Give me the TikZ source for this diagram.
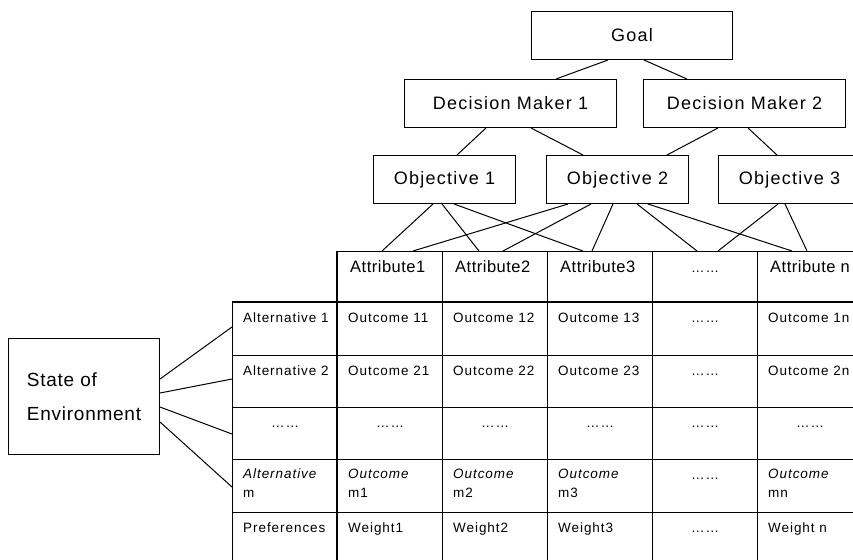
\documentclass[tikz,border=0pt]{standalone}
\usepackage{fontspec}
\setmainfont{Liberation Sans}
\newcommand\fsz[2]{\fontsize{#1pt}{#2pt}\selectfont}
\tikzset{
 conn/.style={line width=1pt},
 box/.style={draw, line width=1pt, inner sep=0pt, anchor=north west, minimum height=48pt,
   font=\fsz{18}{22}\addfontfeature{LetterSpace=7}},
 cell/.style={draw, line width=1.3pt, inner sep=0pt, anchor=north west, minimum width=105pt},
 heavy/.style={line width=1.9pt},
 ctext/.style={inner sep=0pt, anchor=base west, font=\fsz{13.5}{16}\addfontfeature{LetterSpace=7}},
 htext/.style={inner sep=0pt, anchor=base west, font=\fsz{16.5}{20}\addfontfeature{LetterSpace=3}},
}
% name, x, y, height, text
\newcommand\tcell[5]{%
 \node[cell, minimum height=#4pt] (#1) at (#2,#3) {};
 \node[ctext] at ([shift={(11pt,-20pt)}]#1.north west) {#5};}
% centred dots cell
\newcommand\dcell[4]{%
 \node[cell, minimum height=#4pt] (#1) at (#2,#3) {};
 \node[ctext, anchor=base] at ([yshift=-20pt]#1.north) {……};}
% two-line cell
\newcommand\tcellii[6]{%
 \node[cell, minimum height=#4pt] (#1) at (#2,#3) {};
 \node[ctext] at ([shift={(11pt,-19pt)}]#1.north west) {#5};
 \node[ctext] at ([shift={(11pt,-38pt)}]#1.north west) {#6};}
\begin{document}
\begin{tikzpicture}[x=1pt,y=-1pt]
\fill[white] (0,0) rectangle (853,559);
\useasboundingbox (0,0) rectangle (853,559);

% hierarchy boxes
\node[box, minimum width=201pt] (goal) at (531,11) {Goal};
\node[box, minimum width=212pt] (dm1) at (404,79) {Decision Maker 1};
\node[box, minimum width=202pt] (dm2) at (643,79) {Decision Maker 2};
\node[box, minimum width=142pt] (ob1) at (373,155) {Objective 1};
\node[box, minimum width=142pt] (ob2) at (546,155) {Objective 2};
\node[box, minimum width=142pt] (ob3) at (718,155) {Objective 3};

% header row
\foreach \n/\x in {h1/337,h2/442,h3/547,h4/652,h5/757}{
 \node[cell, minimum height=51pt] (\n) at (\x,251) {};}
\node[htext] at ([shift={(13pt,-21pt)}]h1.north west) {Attribute1};
\node[htext] at ([shift={(13pt,-21pt)}]h2.north west) {Attribute2};
\node[htext] at ([shift={(13pt,-21pt)}]h3.north west) {Attribute3};
\node[ctext, anchor=base] at ([yshift=-21pt]h4.north) {……};
\node[htext] at ([shift={(13pt,-21pt)}]h5.north west) {Attribute n};

% row 1
\tcell{r1}{232}{302}{53}{Alternative 1}
\tcell{c11}{337}{302}{53}{Outcome 11}
\tcell{c12}{442}{302}{53}{Outcome 12}
\tcell{c13}{547}{302}{53}{Outcome 13}
\dcell{c14}{652}{302}{53}
\tcell{c15}{757}{302}{53}{Outcome 1n}
% row 2
\tcell{r2}{232}{355}{52}{Alternative 2}
\tcell{c21}{337}{355}{52}{Outcome 21}
\tcell{c22}{442}{355}{52}{Outcome 22}
\tcell{c23}{547}{355}{52}{Outcome 23}
\dcell{c24}{652}{355}{52}
\tcell{c25}{757}{355}{52}{Outcome 2n}
% row 3
\dcell{r3}{232}{407}{52}
\dcell{c31}{337}{407}{52}
\dcell{c32}{442}{407}{52}
\dcell{c33}{547}{407}{52}
\dcell{c34}{652}{407}{52}
\dcell{c35}{757}{407}{52}
% row 4
\tcellii{r4}{232}{459}{53}{\itshape Alternative}{m}
\tcellii{c41}{337}{459}{53}{\itshape Outcome}{m1}
\tcellii{c42}{442}{459}{53}{\itshape Outcome}{m2}
\tcellii{c43}{547}{459}{53}{\itshape Outcome}{m3}
\dcell{c44}{652}{459}{53}
\tcellii{c45}{757}{459}{53}{\itshape Outcome}{mn}
% row 5
\tcell{r5}{232}{512}{60}{Preferences}
\tcell{c51}{337}{512}{60}{Weight1}
\tcell{c52}{442}{512}{60}{Weight2}
\tcell{c53}{547}{512}{60}{Weight3}
\dcell{c54}{652}{512}{60}
\tcell{c55}{757}{512}{60}{Weight n}

% heavier rules of the table
\draw[heavy] (h1.north west) -- (c51.south west);
\draw[heavy] (r1.north west) -- (c15.north east);

% state of environment
\node[draw, line width=1pt, anchor=north west, minimum width=151pt, minimum height=116pt,
  inner sep=0pt, align=left, font=\fsz{19}{34}\addfontfeature{LetterSpace=4}]
  (soe) at (8,338) {State of\\Environment};

% connectors: goal - decision makers
\draw[conn] ([xshift=77pt]goal.south west) -- ([xshift=152pt]dm1.north west);
\draw[conn] ([xshift=113pt]goal.south west) -- ([xshift=44pt]dm2.north west);
% decision makers - objectives
\draw[conn] ([xshift=82pt]dm1.south west) -- ([xshift=84pt]ob1.north west);
\draw[conn] ([xshift=127pt]dm1.south west) -- ([xshift=37pt]ob2.north west);
\draw[conn] ([xshift=75pt]dm2.south west) -- ([xshift=121pt]ob2.north west);
\draw[conn] ([xshift=105pt]dm2.south west) -- ([xshift=59pt]ob3.north west);
% objectives - attributes
\draw[conn] ([xshift=60pt]ob1.south west) -- ([xshift=45pt]h1.north west);
\draw[conn] ([xshift=69pt]ob1.south west) -- ([xshift=37pt]h2.north west);
\draw[conn] ([xshift=81pt]ob1.south west) -- ([xshift=36pt]h3.north west);
\draw[conn] ([xshift=22pt]ob2.south west) -- ([xshift=76pt]h1.north west);
\draw[conn] ([xshift=45pt]ob2.south west) -- ([xshift=61pt]h2.north west);
\draw[conn] ([xshift=67pt]ob2.south west) -- ([xshift=45pt]h3.north west);
\draw[conn] ([xshift=91pt]ob2.south west) -- ([xshift=45pt]h4.north west);
\draw[conn] ([xshift=102pt]ob2.south west) -- ([xshift=35pt]h5.north west);
\draw[conn] ([xshift=60pt]ob3.south west) -- ([xshift=66pt]h4.north west);
\draw[conn] ([xshift=67pt]ob3.south west) -- ([xshift=50pt]h5.north west);
% state of environment - alternatives
\draw[conn] ([yshift=-41pt]soe.north east) -- ([yshift=-25pt]r1.north west);
\draw[conn] ([yshift=-55pt]soe.north east) -- ([yshift=-24pt]r2.north west);
\draw[conn] ([yshift=-69pt]soe.north east) -- ([yshift=-27pt]r3.north west);
\draw[conn] ([yshift=-84pt]soe.north east) -- ([yshift=-28pt]r4.north west);
\end{tikzpicture}
\end{document}
